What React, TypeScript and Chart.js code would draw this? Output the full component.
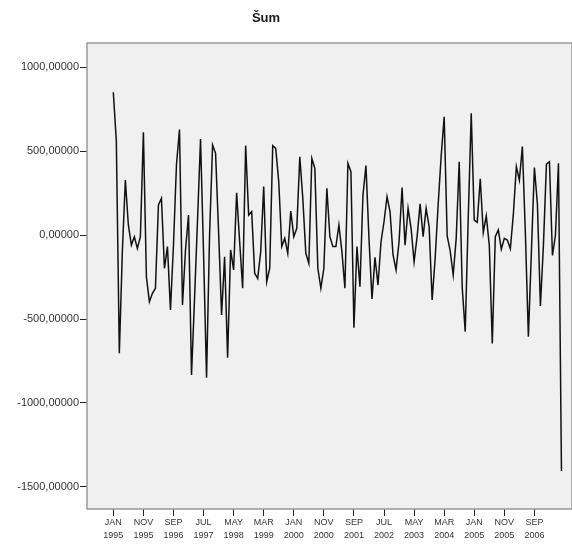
import React, { useEffect, useRef } from 'react';
import { Chart, registerables } from 'chart.js';

Chart.register(...registerables);

const chartTitle = 'Šum';

// Monthly values from JAN 1995 (index 0) to JUN 2007 (index 149)
const values: number[] = [
  850, 560, -704, -100, 327, 60, -60, -10, -80, -10,
  611, -250, -397, -347, -317, 179, 218, -198, -69, -446,
  -60, 420, 628, -417, -89, 119, -833, -380, 90, 571,
  -110, -849, 0, 536, 486, 20, -476, -129, -730, -89,
  -208, 252, -40, -317, 532, 119, 139, -228, -258, -100,
  288, -278, -198, 532, 516, 317, -69, -20, -109, 143,
  -10, 40, 466, 218, -109, -169, 456, 397, -198, -317,
  -198, 278, -10, -69, -69, 60, -99, -317, 427, 377,
  -552, -69, -308, 238, 413, -20, -381, -133, -298, -40,
  79, 228, 139, -119, -208, -40, 282, -60, 159, 40,
  -159, -10, 185, -10, 159, 50, -387, -140, 180, 470,
  704, -5, -95, -238, -20, 436, -312, -575, 100, 724,
  89, 75, 335, 15, 114, -60, -645, -10, 30, -84,
  -20, -30, -82, 124, 407, 327, 526, 10, -605, -100,
  402, 184, -422, -60, 422, 436, -122, 0, 427, -1405,
];

const xTickIndex: number[] = [0, 10, 20, 30, 40, 50, 60, 70, 80, 90, 100, 110, 120, 130, 140];
const xTickLabels: string[][] = [
  ['JAN', '1995'], ['NOV', '1995'], ['SEP', '1996'], ['JUL', '1997'], ['MAY', '1998'],
  ['MAR', '1999'], ['JAN', '2000'], ['NOV', '2000'], ['SEP', '2001'], ['JUL', '2002'],
  ['MAY', '2003'], ['MAR', '2004'], ['JAN', '2005'], ['NOV', '2005'], ['SEP', '2006'],
];
const yTicks: number[] = [-1500, -1000, -500, 0, 500, 1000];

const fmtY = (v: number) => v.toFixed(5).replace('.', ',');

const framePlugin = {
  id: 'frame',
  beforeDraw(chart: any) {
    const { ctx, chartArea: a } = chart;
    ctx.save();
    ctx.fillStyle = '#ffffff';
    ctx.fillRect(0, 0, chart.width, chart.height);
    ctx.fillStyle = '#f0f0f0';
    ctx.fillRect(a.left, a.top, a.right - a.left, a.bottom - a.top);
    ctx.restore();
  },
  afterDraw(chart: any) {
    const { ctx, chartArea: a } = chart;
    ctx.save();
    ctx.strokeStyle = '#9a9a9a';
    ctx.lineWidth = 1.5;
    ctx.strokeRect(a.left, a.top, a.right - a.left, a.bottom - a.top);
    ctx.fillStyle = '#1a1a1a';
    ctx.font = 'bold 13px "Liberation Sans", Arial, sans-serif';
    ctx.textAlign = 'center';
    ctx.textBaseline = 'middle';
    ctx.fillText(chartTitle, 266, 18);
    ctx.restore();
  },
};

export default function App() {
  const ref = useRef<HTMLCanvasElement | null>(null);

  useEffect(() => {
    if (!ref.current) return;
    const chart = new Chart(ref.current, {
      type: 'line',
      data: {
        datasets: [
          {
            data: values.map((v, i) => ({ x: i, y: v })),
            borderColor: '#111111',
            borderWidth: 1.5,
            pointRadius: 0,
            tension: 0,
            fill: false,
          },
        ],
      },
      options: {
        animation: false,
        responsive: false,
        devicePixelRatio: 1,
        layout: { padding: { top: 43, left: 0, right: 0, bottom: 0 } },
        plugins: {
          legend: { display: false },
          tooltip: { enabled: false },
          title: { display: false },
        },
        scales: {
          x: {
            type: 'linear',
            min: -8.75,
            max: 152.5,
            afterBuildTicks: (s: any) => {
              s.ticks = xTickIndex.map((v) => ({ value: v }));
            },
            afterFit: (s: any) => {
              s.height = 35;
            },
            ticks: {
              autoSkip: false,
              maxRotation: 0,
              minRotation: 0,
              padding: 0,
              color: '#333333',
              font: { family: '"Liberation Sans", Arial, sans-serif', size: 9, lineHeight: 1.45 },
              callback: (_v: any, i: number) => xTickLabels[i] ?? '',
            },
            grid: {
              drawOnChartArea: false,
              drawTicks: true,
              tickLength: 7,
              color: '#222222',
              lineWidth: 1,
            },
            border: { display: false },
          },
          y: {
            type: 'linear',
            min: -1631,
            max: 1143,
            afterBuildTicks: (s: any) => {
              s.ticks = yTicks.map((v) => ({ value: v }));
            },
            afterFit: (s: any) => {
              s.width = 87;
            },
            ticks: {
              padding: 1,
              color: '#333333',
              font: { family: '"Liberation Sans", Arial, sans-serif', size: 11 },
              callback: (v: any) => fmtY(Number(v)),
            },
            grid: {
              drawOnChartArea: false,
              drawTicks: true,
              tickLength: 7,
              color: '#222222',
              lineWidth: 1,
            },
            border: { display: false },
          },
        },
      },
      plugins: [framePlugin],
    });
    return () => chart.destroy();
  }, []);

  return (
    <div style={{ position: 'fixed', left: 0, top: 0, width: 572, height: 544, background: '#fff' }}>
      <canvas ref={ref} width={572} height={544} style={{ display: 'block', width: 572, height: 544 }} />
    </div>
  );
}
